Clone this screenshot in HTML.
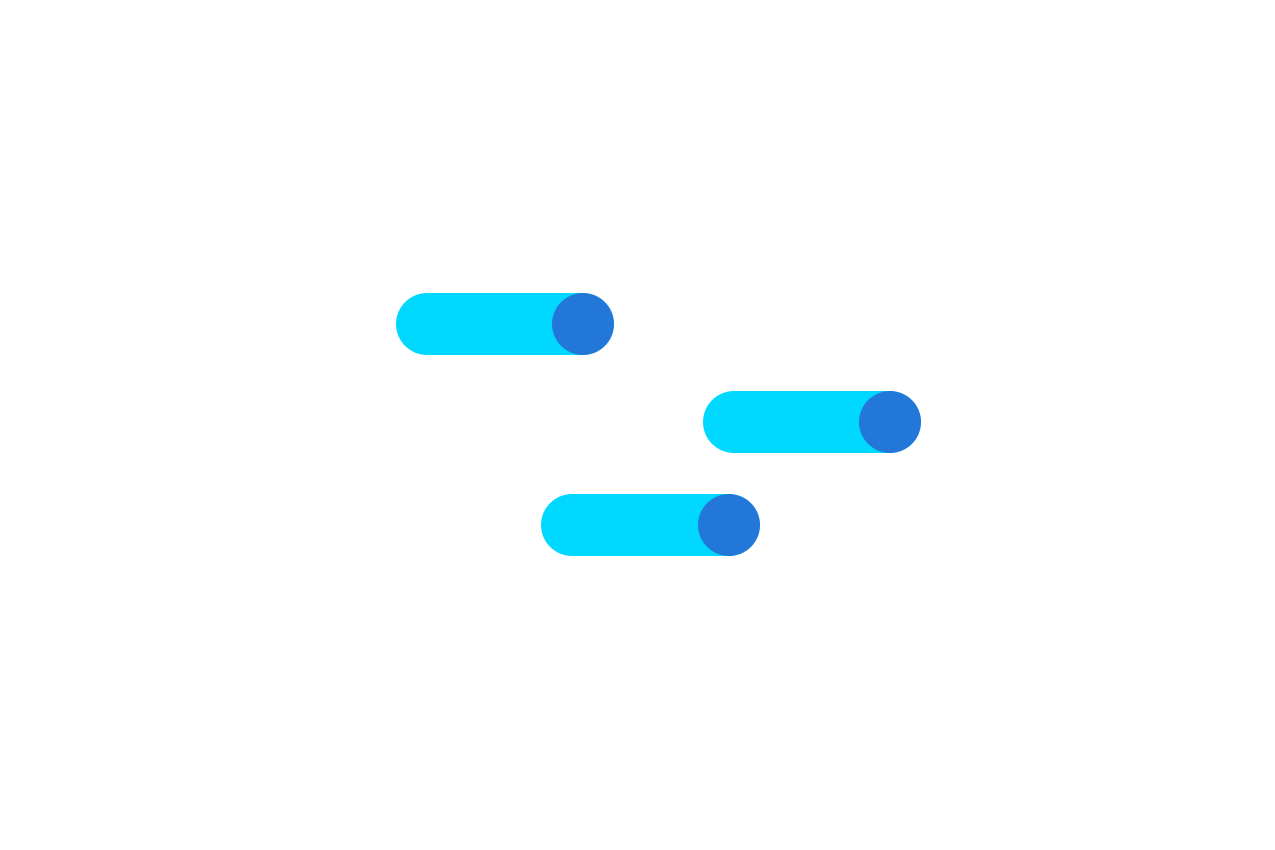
<!DOCTYPE html>
<html><head><meta charset="utf-8"><style>html,body{margin:0;padding:0;background:#fff;}svg{display:block}</style></head>
<body>
<svg width="1275" height="850" viewBox="0 0 1275 850" xmlns="http://www.w3.org/2000/svg">
<rect width="1275" height="850" fill="#fff"/>
<rect x="396" y="293" width="218" height="62" rx="31" fill="#00D8FF"/>
<circle cx="583" cy="324" r="31" fill="#2277D9"/>
<rect x="703" y="391" width="218" height="62" rx="31" fill="#00D8FF"/>
<circle cx="890" cy="422" r="31" fill="#2277D9"/>
<rect x="541" y="494" width="219" height="62" rx="31" fill="#00D8FF"/>
<circle cx="729" cy="525" r="31" fill="#2277D9"/>
</svg>
</body></html>
